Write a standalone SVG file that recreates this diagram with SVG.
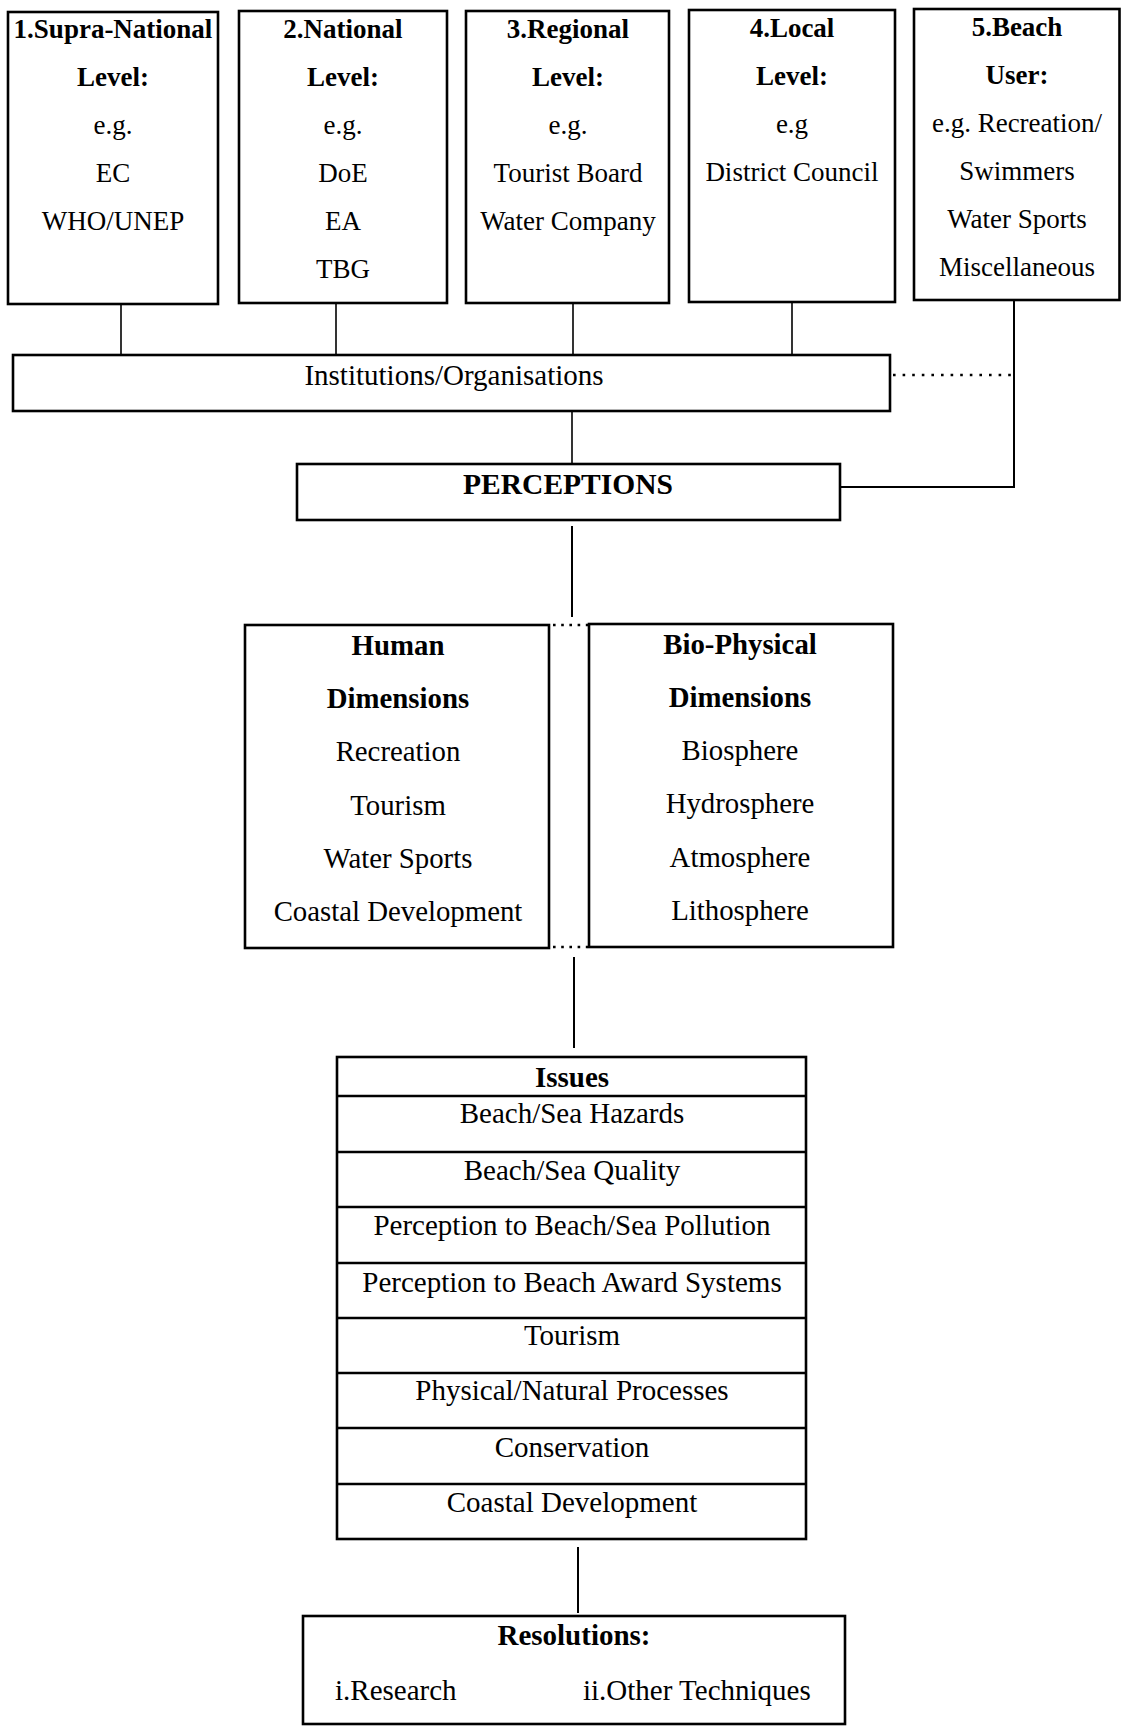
<svg xmlns="http://www.w3.org/2000/svg" width="1122" height="1726" viewBox="0 0 1122 1726">
  <style>
    .box { fill: #ffffff; stroke: #000000; stroke-width: 2.6; }
    .div { stroke: #000000; stroke-width: 2.6; fill: none; }
    .t { font-family: "Liberation Serif", "Times New Roman", serif; fill: #000000; text-anchor: middle; }
    .lvl { font-size: 27px; }
    .b { font-weight: bold; }
    .mid { font-size: 28.8px; }
    .row { font-size: 29px; }
    .start { text-anchor: start; }
    .line { stroke: #000000; stroke-width: 2; fill: none; }
    .thin { stroke: #000000; stroke-width: 1.6; fill: none; }
    .dot { stroke: #000000; stroke-width: 2.6; fill: none; stroke-dasharray: 2.6 7; }
    .dot2 { stroke: #000000; stroke-width: 2.6; fill: none; stroke-dasharray: 2.6 5.6; }
  </style>
  <rect x="0" y="0" width="1122" height="1726" fill="#ffffff"/>

  <!-- connectors -->
  <g id="connectors">
    <line class="thin" x1="121" y1="304" x2="121" y2="355"/>
    <line class="thin" x1="336" y1="303" x2="336" y2="355"/>
    <line class="thin" x1="573" y1="303" x2="573" y2="355"/>
    <line class="thin" x1="792" y1="302" x2="792" y2="355"/>
    <polyline class="line" points="1014,300 1014,487 840,487"/>
    <line class="dot" x1="893" y1="375" x2="1012" y2="375"/>
    <line class="thin" x1="572" y1="411" x2="572" y2="464"/>
    <line class="line" x1="572" y1="526" x2="572" y2="617"/>
    <line class="dot2" x1="553" y1="625" x2="588" y2="625"/>
    <line class="dot2" x1="553" y1="947" x2="588" y2="947"/>
    <line class="line" x1="574" y1="957" x2="574" y2="1048"/>
    <line class="line" x1="578" y1="1547" x2="578" y2="1613"/>
  </g>

  <!-- level boxes -->
  <g id="supra-national">
    <rect class="box" x="8" y="12" width="210" height="292"/>
    <text class="t lvl b" x="113" y="38">1.Supra-National</text>
    <text class="t lvl b" x="113" y="86">Level:</text>
    <text class="t lvl" x="113" y="134">e.g.</text>
    <text class="t lvl" x="113" y="182">EC</text>
    <text class="t lvl" x="113" y="230">WHO/UNEP</text>
  </g>
  <g id="national">
    <rect class="box" x="239" y="11" width="208" height="292"/>
    <text class="t lvl b" x="343" y="38">2.National</text>
    <text class="t lvl b" x="343" y="86">Level:</text>
    <text class="t lvl" x="343" y="134">e.g.</text>
    <text class="t lvl" x="343" y="182">DoE</text>
    <text class="t lvl" x="343" y="230">EA</text>
    <text class="t lvl" x="343" y="278">TBG</text>
  </g>
  <g id="regional">
    <rect class="box" x="466" y="11" width="203" height="292"/>
    <text class="t lvl b" x="568" y="38">3.Regional</text>
    <text class="t lvl b" x="568" y="86">Level:</text>
    <text class="t lvl" x="568" y="134">e.g.</text>
    <text class="t lvl" x="568" y="182">Tourist Board</text>
    <text class="t lvl" x="568" y="230">Water Company</text>
  </g>
  <g id="local">
    <rect class="box" x="689" y="10" width="206" height="292"/>
    <text class="t lvl b" x="792" y="37">4.Local</text>
    <text class="t lvl b" x="792" y="85">Level:</text>
    <text class="t lvl" x="792" y="133">e.g</text>
    <text class="t lvl" x="792" y="181">District Council</text>
  </g>
  <g id="beach-user">
    <rect class="box" x="914" y="9" width="205.5" height="291"/>
    <text class="t lvl b" x="1017" y="36">5.Beach</text>
    <text class="t lvl b" x="1017" y="84">User:</text>
    <text class="t lvl" x="1017" y="132">e.g. Recreation/</text>
    <text class="t lvl" x="1017" y="180">Swimmers</text>
    <text class="t lvl" x="1017" y="228">Water Sports</text>
    <text class="t lvl" x="1017" y="276">Miscellaneous</text>
  </g>

  <g id="institutions">
    <rect class="box" x="13" y="355" width="877" height="56"/>
    <text class="t" x="454" y="385" font-size="29">Institutions/Organisations</text>
  </g>

  <g id="perceptions">
    <rect class="box" x="297" y="464" width="543" height="56"/>
    <text class="t b" x="568" y="494" font-size="29.5">PERCEPTIONS</text>
  </g>

  <g id="human-dimensions">
    <rect class="box" x="245" y="625" width="304" height="323"/>
    <text class="t mid b" x="398" y="655">Human</text>
    <text class="t mid b" x="398" y="708">Dimensions</text>
    <text class="t mid" x="398" y="761">Recreation</text>
    <text class="t mid" x="398" y="815">Tourism</text>
    <text class="t mid" x="398" y="868">Water Sports</text>
    <text class="t mid" x="398" y="921">Coastal Development</text>
  </g>
  <g id="bio-physical-dimensions">
    <rect class="box" x="589" y="624" width="304" height="323"/>
    <text class="t mid b" x="740" y="654">Bio-Physical</text>
    <text class="t mid b" x="740" y="707">Dimensions</text>
    <text class="t mid" x="740" y="760">Biosphere</text>
    <text class="t mid" x="740" y="813">Hydrosphere</text>
    <text class="t mid" x="740" y="867">Atmosphere</text>
    <text class="t mid" x="740" y="920">Lithosphere</text>
  </g>

  <g id="issues">
    <rect class="box" x="337" y="1057" width="469" height="482"/>
    <line class="div" x1="337" y1="1096" x2="806" y2="1096"/>
    <line class="div" x1="337" y1="1152" x2="806" y2="1152"/>
    <line class="div" x1="337" y1="1207" x2="806" y2="1207"/>
    <line class="div" x1="337" y1="1263" x2="806" y2="1263"/>
    <line class="div" x1="337" y1="1318" x2="806" y2="1318"/>
    <line class="div" x1="337" y1="1373" x2="806" y2="1373"/>
    <line class="div" x1="337" y1="1428" x2="806" y2="1428"/>
    <line class="div" x1="337" y1="1484" x2="806" y2="1484"/>
    <text class="t row b" x="572" y="1087">Issues</text>
    <text class="t row" x="572" y="1123">Beach/Sea Hazards</text>
    <text class="t row" x="572" y="1180">Beach/Sea Quality</text>
    <text class="t row" x="572" y="1235">Perception to Beach/Sea Pollution</text>
    <text class="t row" x="572" y="1292">Perception to Beach Award Systems</text>
    <text class="t row" x="572" y="1345">Tourism</text>
    <text class="t row" x="572" y="1400">Physical/Natural Processes</text>
    <text class="t row" x="572" y="1457">Conservation</text>
    <text class="t row" x="572" y="1512">Coastal Development</text>
  </g>

  <g id="resolutions">
    <rect class="box" x="303" y="1616" width="542" height="108"/>
    <text class="t row b" x="574" y="1645">Resolutions:</text>
    <text class="t row start" x="335" y="1700">i.Research</text>
    <text class="t row start" x="583" y="1700">ii.Other Techniques</text>
  </g>
</svg>
